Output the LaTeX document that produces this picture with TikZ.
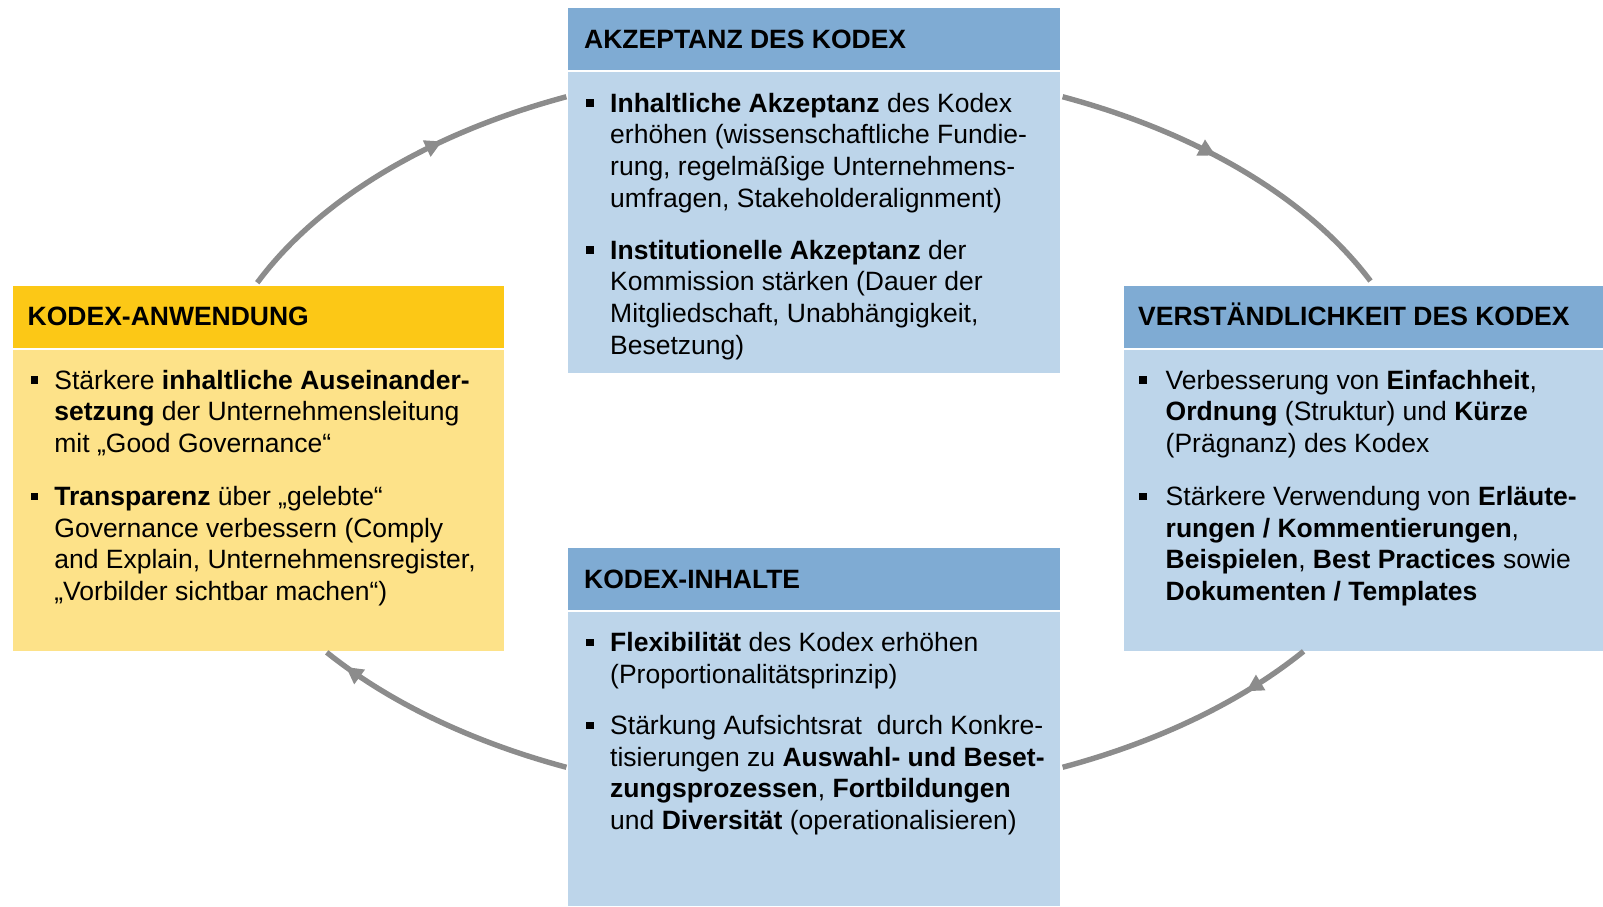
\documentclass[tikz,border=0pt]{standalone}
\usepackage{fontspec}
\setmainfont{Liberation Sans}
\usetikzlibrary{decorations.markings,arrows.meta}
\definecolor{hblue}{RGB}{127,171,211}
\definecolor{bblue}{RGB}{189,213,234}
\definecolor{hyel}{RGB}{252,200,22}
\definecolor{byel}{RGB}{253,226,137}
\definecolor{arcgray}{RGB}{140,140,140}
\newcommand{\bigtext}{\fontsize{26.5}{31.7}\selectfont}
\newcommand{\itemlines}[1]{\vtop{\baselineskip=31.7pt\lineskiplimit=-20pt\lineskip=0pt #1}}
\tikzset{
  panel/.style={anchor=north west, inner sep=0pt, outer sep=0pt, draw=none},
  hdrtxt/.style={anchor=base west, inner sep=0pt, font=\bigtext\bfseries},
  itemtxt/.style={anchor=base west, inner sep=0pt, font=\bigtext},
  bul/.style={fill=black, inner sep=0pt, minimum size=7.4pt},
  arcline/.style={draw=arcgray, line width=5.4pt, postaction={decorate}},
  tipat/.style={decoration={markings, mark=at position #1 with {\arrow{Triangle[length=17pt,width=17pt]}}}}
}
\begin{document}
\begin{tikzpicture}[x=1pt,y=-1pt]
\useasboundingbox (0,0) rectangle (1603,906);
% panels
\node[panel, fill=hblue, minimum width=492pt, minimum height=62pt] (hA) at (568,8) {};
\node[panel, fill=bblue, minimum width=492pt, minimum height=301pt] (bA) at (568,72) {};
\node[panel, fill=hyel, minimum width=491pt, minimum height=62pt] (hL) at (13,286) {};
\node[panel, fill=byel, minimum width=491pt, minimum height=301pt] (bL) at (13,350) {};
\node[panel, fill=hblue, minimum width=479pt, minimum height=62pt] (hR) at (1124,286) {};
\node[panel, fill=bblue, minimum width=479pt, minimum height=301pt] (bR) at (1124,350) {};
\node[panel, fill=hblue, minimum width=492pt, minimum height=62pt] (hB) at (568,548) {};
\node[panel, fill=bblue, minimum width=492pt, minimum height=294pt] (bB) at (568,612) {};
% headers
\node[hdrtxt] (tA) at (584,48.5) {AKZEPTANZ DES KODEX};
\node[hdrtxt] (tL) at (27.5,325.5) {KODEX-ANWENDUNG};
\node[hdrtxt] (tR) at (1138,325.5) {VERSTÄNDLICHKEIT DES KODEX};
\node[hdrtxt] (tB) at (584,588) {KODEX-INHALTE};
% top items
\node[bul] (pA1) at (590,103) {};
\node[itemtxt] (iA1) at (610,112) {\itemlines{\hbox{\textbf{Inhaltliche Akzeptanz} des Kodex}\hbox{erhöhen (wissenschaftliche Fundie-}\hbox{rung, regelmäßige Unternehmens-}\hbox{umfragen, Stakeholderalignment)}}};
\node[bul] (pA2) at (590,250) {};
\node[itemtxt] (iA2) at (610,259) {\itemlines{\hbox{\textbf{Institutionelle Akzeptanz} der}\hbox{Kommission stärken (Dauer der}\hbox{Mitgliedschaft, Unabhängigkeit,}\hbox{Besetzung)}}};
% left items
\node[bul] (pL1) at (34.5,380) {};
\node[itemtxt] (iL1) at (54.2,389) {\itemlines{\hbox{Stärkere \textbf{inhaltliche Auseinander-}}\hbox{\textbf{setzung} der Unternehmensleitung}\hbox{mit „Good Governance“}}};
\node[bul] (pL2) at (34.5,496.5) {};
\node[itemtxt] (iL2) at (54.2,505.5) {\itemlines{\hbox{\textbf{Transparenz} über „gelebte“}\hbox{Governance verbessern (Comply}\hbox{and Explain, Unternehmensregister,}\hbox{„Vorbilder sichtbar machen“)}}};
% right items
\node[bul] (pR1) at (1143,380) {};
\node[itemtxt] (iR1) at (1165.5,389) {\itemlines{\hbox{Verbesserung von \textbf{Einfachheit},}\hbox{\textbf{Ordnung} (Struktur) und \textbf{Kürze}}\hbox{(Prägnanz) des Kodex}}};
\node[bul] (pR2) at (1143,496.5) {};
\node[itemtxt] (iR2) at (1165.5,505.5) {\itemlines{\hbox{Stärkere Verwendung von \textbf{Erläute-}}\hbox{\textbf{rungen / Kommentierungen},}\hbox{\textbf{Beispielen}, \textbf{Best Practices} sowie}\hbox{\textbf{Dokumenten / Templates}}}};
% bottom items
\node[bul] (pB1) at (590,642.7) {};
\node[itemtxt] (iB1) at (610,651.7) {\itemlines{\hbox{\textbf{Flexibilität} des Kodex erhöhen}\hbox{(Proportionalitätsprinzip)}}};
\node[bul] (pB2) at (590,725.5) {};
\node[itemtxt] (iB2) at (610,734.5) {\itemlines{\hbox{Stärkung Aufsichtsrat\ \ durch Konkre-}\hbox{tisierungen zu \textbf{Auswahl- und Beset-}}\hbox{\textbf{zungsprozessen}, \textbf{Fortbildungen}}\hbox{und \textbf{Diversität} (operationalisieren)}}};
% cycle arcs
\coordinate (C) at (814.5,432);
\draw[arcline, tipat=0.64] plot[domain=204:246, samples=60] ({814.5+610*cos(\x)},{432+367*sin(\x)});
\draw[arcline, tipat=0.45] plot[domain=294:335.7, samples=60] ({814.5+610*cos(\x)},{432+367*sin(\x)});
\draw[arcline, tipat=0.26] plot[domain=36.7:66, samples=60] ({814.5+610*cos(\x)},{432+367*sin(\x)});
\draw[arcline, tipat=0.91] plot[domain=114:143.1, samples=60] ({814.5+610*cos(\x)},{432+367*sin(\x)});
\end{tikzpicture}
\end{document}
